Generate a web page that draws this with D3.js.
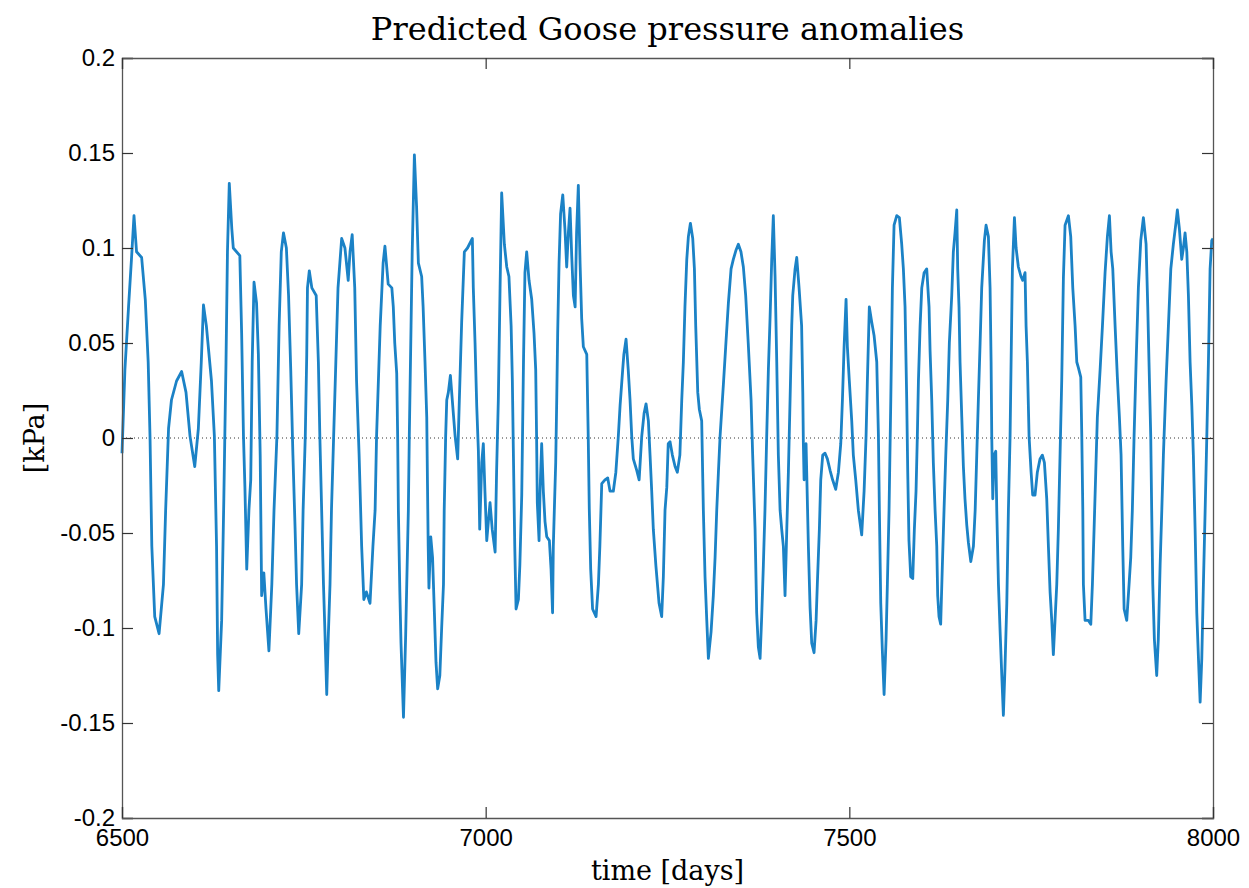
<!DOCTYPE html>
<html>
<head>
<meta charset="utf-8">
<script src="https://cdn.jsdelivr.net/npm/d3@7"></script>
<style>
  body { margin: 0; background: #fff; }
  svg { display: block; }
</style>
</head>
<body>
<svg id="chart" width="1249" height="888"></svg>
<script>
// time axis [days] and predicted pressure anomaly [kPa]
var days = [
  6500, 6504, 6509, 6513, 6516.5, 6520, 6527, 6532, 6536, 6538.5, 6541, 6545, 6551, 6557, 6560, 6564, 6568, 6575, 6582, 6588,
  6593.5, 6600, 6605, 6609, 6612, 6616, 6623, 6627, 6630, 6631.5, 6633, 6637, 6640, 6643, 6645, 6647.5, 6651, 6653, 6662, 6664.5,
  6667, 6669, 6671.5, 6674.5, 6677, 6679, 6681.5, 6685, 6687.5, 6690, 6692, 6695, 6698, 6702, 6706, 6709, 6713, 6716, 6719, 6722,
  6726, 6729, 6732, 6735, 6738, 6740, 6743, 6747, 6749, 6752, 6754, 6755, 6757.5, 6761, 6767, 6770, 6772, 6774.5, 6777, 6779,
  6781.5, 6783.5, 6786, 6788, 6791, 6794, 6797, 6802, 6806.5, 6811, 6813.5, 6816.5, 6820, 6822.5, 6826, 6829.5, 6832.5, 6836, 6841, 6845,
  6848, 6850, 6855, 6859, 6861.5, 6866, 6871, 6873, 6875, 6877.7, 6879, 6880, 6882, 6883.6, 6885, 6887, 6890, 6891.5, 6893.7, 6895,
  6897.4, 6899, 6902, 6905, 6907.5, 6912, 6914, 6916.6, 6919, 6920, 6921, 6922, 6924.5, 6927, 6929.5, 6931.7, 6934, 6937, 6939.5, 6942,
  6943, 6945, 6946.5, 6948.7, 6951.5, 6954.7, 6958, 6961.5, 6963.8, 6967, 6970.7, 6975, 6981.7, 6983, 6985.4, 6987.7, 6990, 6991.8, 6994.6, 6996.8,
  6999, 7001.5, 7003.7, 7006, 7009, 7013, 7015, 7017.4, 7019.8, 7022, 7025.7, 7029, 7032, 7035, 7036.7, 7038, 7040, 7041.8, 7045, 7047,
  7049.6, 7052, 7054, 7056.4, 7059.6, 7063.3, 7066.5, 7068.8, 7070, 7071, 7073.4, 7074.8, 7077, 7079.3, 7081.6, 7084, 7087.6, 7089.9, 7092, 7093,
  7094.4, 7096.3, 7097.7, 7099, 7100.9, 7103, 7106, 7109, 7111.4, 7113.7, 7116, 7118.3, 7120.6, 7123, 7125, 7127.4, 7129.8, 7132, 7134.3, 7139,
  7141, 7142.5, 7144.4, 7147, 7151.8, 7155, 7157, 7159.6, 7164, 7167.8, 7171, 7175.5, 7179, 7182.4, 7184.8, 7188.4, 7190, 7193, 7196, 7198.5,
  7200.8, 7203, 7207.7, 7211, 7214.6, 7217.8, 7220.5, 7223.7, 7226, 7228.3, 7230.5, 7234, 7238.4, 7242, 7244.3, 7246.6, 7249, 7251, 7253.5, 7256.7,
  7260.4, 7263.5, 7267, 7269.6, 7271.8, 7274, 7276.5, 7278.7, 7281.5, 7284.7, 7287, 7288.8, 7291.6, 7293.8, 7297, 7299.3, 7301.6, 7304, 7306.2, 7309.9,
  7313, 7315.4, 7317.7, 7320, 7322.3, 7326.8, 7330, 7333.7, 7337.4, 7340.5, 7344.3, 7347.4, 7351, 7354.3, 7357.5, 7361, 7364.9, 7367.1, 7370.4, 7372.6,
  7374.9, 7377.3, 7379.5, 7381.8, 7384, 7386.4, 7388.7, 7391, 7393.3, 7395.5, 7397.9, 7400.2, 7402.4, 7404.8, 7407, 7409.3, 7411.6, 7414, 7416.2, 7418.5,
  7420.8, 7422.2, 7425.4, 7427.7, 7430.9, 7434.4, 7436, 7436.8, 7437.8, 7440.5, 7441.4, 7443.7, 7446, 7448.3, 7451.5, 7454.3, 7456, 7458.8, 7460.7, 7463.4,
  7466.6, 7469.8, 7473.5, 7477, 7481.3, 7485, 7488.2, 7490.5, 7492.8, 7495.5, 7497.3, 7500, 7503.3, 7505.5, 7508.8, 7512.4, 7517, 7520.3, 7523, 7524.8,
  7527.5, 7530.8, 7534, 7537.7, 7540, 7541.3, 7543.2, 7545.4, 7547.8, 7550.5, 7552.3, 7554.6, 7557, 7559.2, 7561.5, 7565.2, 7568.8, 7572, 7574.3, 7576.6,
  7578.9, 7580.3, 7582, 7584.4, 7587.2, 7589.4, 7591.7, 7593.5, 7595, 7597.3, 7599.6, 7602.8, 7606.4, 7609.6, 7611, 7613.3, 7615.5, 7617.9, 7620.2, 7621.5,
  7623.3, 7625.6, 7627.9, 7630.2, 7632.6, 7635.3, 7637.5, 7640.8, 7643, 7645.3, 7647.7, 7649, 7650.8, 7652.2, 7654.6, 7656.8, 7659, 7661.5, 7663.7, 7667,
  7670.6, 7673, 7675.2, 7677.4, 7679.8, 7682, 7685.7, 7688, 7691.2, 7693.5, 7694.9, 7695.8, 7697.2, 7699, 7701.3, 7702.7, 7705, 7707.3, 7709.6, 7711.8,
  7714, 7716.5, 7718.7, 7721, 7722.4, 7724.2, 7727, 7729.3, 7732.4, 7736, 7738.4, 7741.6, 7743, 7744.8, 7747.1, 7749.9, 7752.1, 7755.3, 7758.5, 7762.2,
  7765.4, 7768.2, 7771.4, 7773.7, 7776, 7778.3, 7780.5, 7782.8, 7785.2, 7787.4, 7789.7, 7792, 7794.3, 7796.6, 7801.2, 7804.4, 7807.2, 7810.4, 7812.7, 7814.9,
  7818.2, 7819.6, 7821, 7821.8, 7824.1, 7828.7, 7832, 7834.2, 7836.5, 7838.8, 7841, 7844.8, 7848, 7851.6, 7854.8, 7857.6, 7859.9, 7862.2, 7865.4, 7868.5,
  7871.3, 7873.6, 7875.9, 7877.8, 7881.4, 7884.6, 7886.9, 7889.1, 7891.5, 7894.3, 7897.4, 7900.7, 7904.3, 7908, 7910.3, 7912, 7914.4, 7915.7, 7917.2, 7919.4,
  7922.6, 7924.8, 7927.3, 7929.6, 7931.8, 7935.5, 7938.7, 7942, 7945.5, 7949.3, 7951, 7953.8, 7957, 7959.3, 7961.6, 7964, 7966.2, 7968.5, 7970.9, 7973,
  7975.4, 7977.7, 7980, 7982.3, 7984.6, 7986.8, 7989.2, 7991.5, 7993.7, 7996, 7998.3, 8000
];
var kpa = [
  -0.008, 0.036, 0.069, 0.094, 0.117, 0.098, 0.095, 0.073, 0.04, 0.001, -0.057, -0.094, -0.103, -0.077, -0.038, 0.005, 0.02, 0.03, 0.035, 0.024,
  0.001, -0.015, 0.005, 0.04, 0.07, 0.059, 0.03, 0.001, -0.057, -0.114, -0.133, -0.096, -0.032, 0.04, 0.098, 0.134, 0.11, 0.1, 0.096, 0.055,
  0.001, -0.026, -0.069, -0.038, -0.022, 0.04, 0.082, 0.071, 0.044, -0.009, -0.083, -0.071, -0.09, -0.112, -0.077, -0.038, 0.001, 0.059, 0.098, 0.108,
  0.1, 0.075, 0.036, -0.009, -0.048, -0.077, -0.103, -0.077, -0.038, 0.001, 0.044, 0.079, 0.088, 0.079, 0.075, 0.04, 0.001, -0.038, -0.077, -0.102,
  -0.135, -0.106, -0.077, -0.038, 0.001, 0.04, 0.079, 0.105, 0.1, 0.083, 0.098, 0.107, 0.079, 0.03, -0.009, -0.057, -0.085, -0.081, -0.087, -0.057,
  -0.038, 0.001, 0.059, 0.092, 0.101, 0.081, 0.079, 0.069, 0.05, 0.034, 0.001, -0.038, -0.081, -0.108, -0.124, -0.147, -0.104, -0.077, -0.038, 0.001,
  0.059, 0.098, 0.149, 0.122, 0.092, 0.085, 0.069, 0.04, 0.011, -0.024, -0.057, -0.079, -0.052, -0.063, -0.092, -0.118, -0.132, -0.125, -0.1, -0.077,
  -0.038, 0.001, 0.02, 0.024, 0.033, 0.017, 0.001, -0.011, 0.02, 0.061, 0.098, 0.1, 0.105, 0.079, 0.05, 0.017, -0.007, -0.048, -0.013, -0.003,
  -0.028, -0.054, -0.044, -0.034, -0.048, -0.06, -0.018, 0.02, 0.079, 0.129, 0.102, 0.09, 0.085, 0.059, 0.03, -0.005, -0.057, -0.09, -0.085, -0.067,
  -0.03, 0.04, 0.087, 0.098, 0.083, 0.073, 0.055, 0.036, 0.001, -0.034, -0.054, -0.028, -0.003, -0.028, -0.044, -0.052, -0.054, -0.069, -0.092, -0.057,
  -0.038, -0.013, 0.02, 0.055, 0.092, 0.118, 0.128, 0.11, 0.09, 0.108, 0.121, 0.096, 0.075, 0.069, 0.108, 0.133, 0.092, 0.063, 0.048, 0.044,
  0.001, -0.038, -0.069, -0.09, -0.094, -0.077, -0.057, -0.024, -0.022, -0.021, -0.028, -0.028, -0.018, 0.001, 0.017, 0.036, 0.044, 0.052, 0.036, 0.02,
  0.001, -0.011, -0.017, -0.022, 0.001, 0.013, 0.018, 0.009, -0.009, -0.028, -0.048, -0.067, -0.087, -0.094, -0.073, -0.038, -0.026, -0.003, -0.002, -0.009,
  -0.015, -0.018, -0.009, 0.02, 0.04, 0.069, 0.094, 0.106, 0.113, 0.105, 0.089, 0.059, 0.024, 0.015, 0.009, -0.038, -0.073, -0.096, -0.116, -0.102,
  -0.083, -0.063, -0.038, -0.018, 0.001, 0.028, 0.048, 0.071, 0.089, 0.094, 0.099, 0.102, 0.098, 0.09, 0.075, 0.05, 0.02, -0.009, -0.048, -0.092,
  -0.11, -0.116, -0.094, -0.067, -0.038, 0.001, 0.036, 0.063, 0.094, 0.117, 0.085, 0.04, -0.009, -0.038, -0.048, -0.057, -0.083, -0.048, -0.018, 0.02,
  0.059, 0.075, 0.089, 0.095, 0.079, 0.059, 0.024, -0.003, -0.022, -0.003, -0.018, -0.057, -0.089, -0.108, -0.113, -0.096, -0.077, -0.048, -0.022, -0.009,
  -0.008, -0.011, -0.017, -0.022, -0.027, -0.018, -0.003, 0.02, 0.048, 0.073, 0.048, 0.03, 0.009, -0.009, -0.022, -0.038, -0.051, -0.028, 0.001, 0.03,
  0.069, 0.061, 0.054, 0.04, 0.001, -0.038, -0.087, -0.112, -0.135, -0.106, -0.077, -0.038, 0.02, 0.079, 0.112, 0.117, 0.116, 0.102, 0.089, 0.069,
  0.02, -0.018, -0.054, -0.073, -0.074, -0.048, -0.028, 0.001, 0.03, 0.059, 0.079, 0.087, 0.089, 0.069, 0.046, 0.02, -0.013, -0.038, -0.057, -0.083,
  -0.094, -0.098, -0.067, -0.038, -0.009, 0.02, 0.05, 0.075, 0.098, 0.108, 0.12, 0.089, 0.069, 0.04, 0.011, -0.015, -0.032, -0.046, -0.055, -0.065,
  -0.057, -0.038, -0.009, 0.02, 0.05, 0.079, 0.104, 0.112, 0.106, 0.079, 0.04, 0.001, -0.032, -0.009, -0.007, -0.038, -0.077, -0.102, -0.125, -0.146,
  -0.121, -0.087, -0.038, 0.001, 0.04, 0.089, 0.116, 0.1, 0.09, 0.085, 0.083, 0.087, 0.059, 0.04, 0.001, -0.018, -0.03, -0.03, -0.018, -0.011,
  -0.009, -0.013, -0.032, -0.057, -0.081, -0.096, -0.114, -0.096, -0.077, -0.048, -0.009, 0.03, 0.084, 0.112, 0.117, 0.106, 0.079, 0.059, 0.04, 0.037,
  0.032, 0.001, -0.038, -0.077, -0.096, -0.096, -0.098, -0.077, -0.048, -0.018, 0.011, 0.036, 0.059, 0.087, 0.106, 0.117, 0.098, 0.089, 0.059, 0.032,
  0.011, -0.009, -0.057, -0.09, -0.096, -0.077, -0.063, -0.038, 0.001, 0.04, 0.079, 0.104, 0.116, 0.102, 0.069, 0.04, 0.001, -0.038, -0.077, -0.106,
  -0.125, -0.106, -0.067, -0.038, -0.009, 0.03, 0.059, 0.089, 0.102, 0.114, 0.12, 0.11, 0.094, 0.1, 0.108, 0.098, 0.075, 0.04, 0.017, -0.009,
  -0.048, -0.092, -0.116, -0.139, -0.116, -0.077, -0.038, 0.001, 0.04, 0.089, 0.104, 0.105
];
var xTicks = [6500, 7000, 7500, 8000];
var yTicks = [0.2, 0.15, 0.1, 0.05, 0, -0.05, -0.1, -0.15, -0.2];

var svg = d3.select("#chart");
var marginLeft = 122, marginTop = 58, plotW = 1091, plotH = 760;

var x = d3.scaleLinear().domain([6500, 8000]).range([marginLeft, marginLeft + plotW]);
var y = d3.scaleLinear().domain([-0.2, 0.2]).range([marginTop + plotH, marginTop]);

var series = days.map(function(d, i) { return { t: d, v: kpa[i] }; });

// dotted zero line
svg.append("line")
  .attr("x1", x(6500)).attr("x2", x(8000))
  .attr("y1", y(0)).attr("y2", y(0))
  .attr("stroke", "#333").attr("stroke-width", 1)
  .attr("stroke-dasharray", "1,3");

svg.append("path")
  .datum(series)
  .attr("fill", "none")
  .attr("stroke", "#1b82c6")
  .attr("stroke-width", 2.8)
  .attr("stroke-linejoin", "round")
  .attr("d", d3.line().x(function(d) { return x(d.t); }).y(function(d) { return y(d.v); }));

// matlab style axes: ticks pointing inwards, box all around
var fmt = function(v) { return String(+v.toFixed(2)); };
var tickLen = 11;

var yAxisL = d3.axisLeft(y).tickValues(yTicks).tickSize(-tickLen).tickPadding(7).tickFormat(fmt);
var yAxisR = d3.axisRight(y).tickValues(yTicks).tickSize(-tickLen).tickFormat("");
var xAxisB = d3.axisBottom(x).tickValues(xTicks).tickSize(-tickLen).tickPadding(11).tickFormat(d3.format("d"));
var xAxisT = d3.axisTop(x).tickValues(xTicks).tickSize(-tickLen).tickFormat("");

function styleAxis(g) {
  g.select(".domain").attr("stroke", "#555").attr("stroke-width", 1.3);
  g.selectAll(".tick line").attr("stroke", "#333").attr("stroke-width", 1.2);
  g.selectAll(".tick text")
    .attr("fill", "#000")
    .style("font-family", "'Liberation Sans', Arial, sans-serif")
    .style("font-size", "24px");
}

svg.append("g").attr("transform", "translate(" + marginLeft + ",0)").call(yAxisL).call(styleAxis);
svg.append("g").attr("transform", "translate(" + (marginLeft + plotW) + ",0)").call(yAxisR).call(styleAxis);
svg.append("g").attr("transform", "translate(0," + (marginTop + plotH) + ")").call(xAxisB).call(styleAxis);
svg.append("g").attr("transform", "translate(0," + marginTop + ")").call(xAxisT).call(styleAxis);

var serif = "'DejaVu Serif', 'Liberation Serif', serif";

svg.append("text")
  .attr("x", marginLeft + plotW / 2).attr("y", 40)
  .attr("text-anchor", "middle")
  .style("font-family", serif).style("font-size", "32px")
  .text("Predicted Goose pressure anomalies");

svg.append("text")
  .attr("x", marginLeft + plotW / 2).attr("y", 880)
  .attr("text-anchor", "middle")
  .style("font-family", serif).style("font-size", "27px")
  .text("time [days]");

svg.append("text")
  .attr("transform", "translate(44," + (marginTop + plotH / 2) + ") rotate(-90)")
  .attr("text-anchor", "middle")
  .style("font-family", serif).style("font-size", "27px")
  .text("[kPa]");
</script>
</body>
</html>
